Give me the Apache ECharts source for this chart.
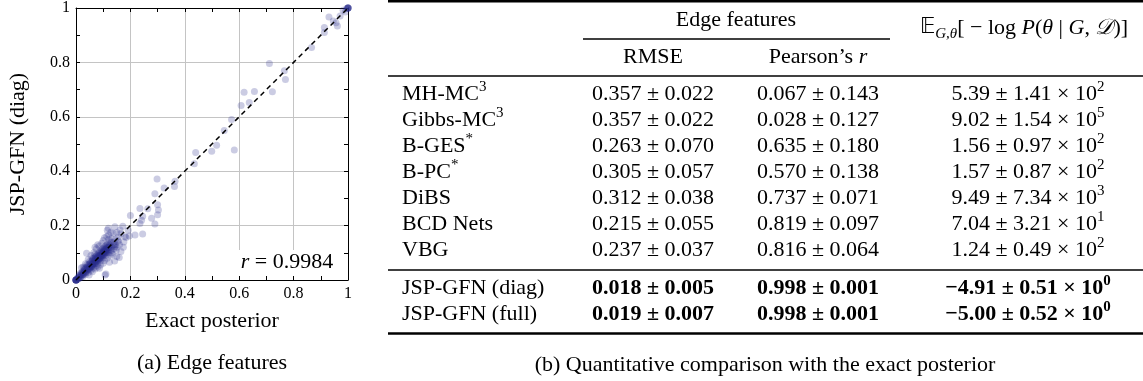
<!DOCTYPE html>
<html><head><meta charset="utf-8">
<script src="https://cdn.jsdelivr.net/npm/echarts@6/dist/echarts.min.js"></script>
<style>html,body{margin:0;padding:0;background:#fff}#c{width:1143px;height:381px}</style>
</head><body><div id="c"></div>
<script>
// ---------------- data ----------------
const tickLabels = ['0', '0.2', '0.4', '0.6', '0.8', '1'];
const identityLine = [[0, 0], [1, 1]];
const correlationText = '0.9984';
// (exact posterior, JSP-GFN diag) edge-feature pairs
const edgePoints = [
  [0,0],[0,0],[0,0],[0,0],[0,0],[0,0],[0,0],[0,0],[0,0],[0,0],
  [0.004,0.002],[0.006,0.008],[0.008,0.004],[0.01,0.012],[0.012,0.006],[0.014,0.016],[0.016,0.01],[0.018,0.02],[0.02,0.014],[0.022,0.026],
  [0.024,0.018],[0.026,0.03],[0.028,0.022],[0.03,0.036],[0.032,0.026],[0.034,0.04],[0.036,0.03],[0.038,0.046],[0.04,0.034],[0.042,0.05],
  [0.044,0.038],[0.046,0.056],[0.048,0.042],[0.05,0.06],[0.052,0.046],[0.054,0.064],[0.056,0.05],[0.058,0.07],[0.06,0.054],[0.062,0.076],
  [0.064,0.058],[0.066,0.08],[0.068,0.062],[0.07,0.084],[0.072,0.066],[0.074,0.088],[0.076,0.07],[0.078,0.092],[0.08,0.074],[0.082,0.098],
  [0.084,0.078],[0.086,0.102],[0.088,0.082],[0.09,0.106],[0.092,0.086],[0.094,0.11],[0.096,0.09],[0.098,0.114],[0.1,0.094],[0.102,0.118],
  [0.104,0.098],[0.106,0.122],[0.108,0.102],[0.11,0.126],[0.112,0.106],[0.114,0.13],[0.116,0.11],[0.118,0.134],[0.12,0.114],[0.122,0.126],
  [0.015,0.024],[0.025,0.012],[0.03,0.045],[0.035,0.02],[0.04,0.056],[0.045,0.028],[0.05,0.068],[0.055,0.036],[0.06,0.08],[0.065,0.045],
  [0.07,0.095],[0.075,0.052],[0.08,0.062],[0.085,0.09],[0.09,0.07],[0.095,0.1],[0.1,0.08],[0.105,0.112],[0.11,0.09],[0.115,0.118],
  [0.12,0.1],[0.125,0.12],[0.13,0.108],[0.135,0.128],[0.14,0.115],[0.062,0.062],[0.072,0.074],[0.082,0.082],[0.092,0.094],[0.102,0.104],
  [0.068,0.07],[0.078,0.078],[0.088,0.09],[0.098,0.098],[0.108,0.11],[0.058,0.058],[0.052,0.052],[0.086,0.086],[0.096,0.096],[0.106,0.106],
  [0.01,0.01],[0.02,0.02],[0.03,0.03],[0.04,0.04],[0.05,0.05],[0.06,0.06],[0.07,0.07],[0.08,0.08],[0.09,0.09],[0.1,0.1],[0.11,0.11],[0.12,0.12],
  [0.015,0.008],[0.025,0.02],[0.035,0.028],[0.045,0.04],[0.055,0.048],[0.065,0.058],[0.075,0.066],[0.085,0.076],[0.095,0.084],[0.105,0.095],[0.115,0.102],[0.125,0.11],
  [0.012,0.018],[0.022,0.03],[0.032,0.04],[0.042,0.045],[0.052,0.058],[0.062,0.07],[0.072,0.08],[0.082,0.09],[0.092,0.1],[0.102,0.11],[0.112,0.12],[0.122,0.13],
  [0.05,0.04],[0.06,0.05],[0.07,0.06],[0.08,0.07],[0.09,0.08],[0.1,0.09],[0.11,0.1],[0.07,0.075],[0.08,0.085],[0.09,0.085],[0.1,0.105],[0.11,0.115],
  [0.13,0.14],[0.14,0.13],[0.12,0.15],[0.13,0.12],[0.145,0.15],[0.155,0.14],
  [0.02,0.045],[0.035,0.06],[0.045,0.075],[0.055,0.09],[0.065,0.1],[0.075,0.115],[0.085,0.125],[0.095,0.135],[0.06,0.03],[0.07,0.04],
  [0.08,0.048],[0.09,0.055],[0.1,0.062],[0.105,0.072],[0.115,0.08],[0.125,0.09],[0.048,0.018],[0.086,0.043],[0.107,0.018],[0.1,0.145],
  [0.08,0.13],[0.07,0.12],[0.135,0.095],[0.145,0.13],[0.15,0.12],[0.039,0.098],[0.026,0.048],[0.11,0.022],
  [0.143,0.196],[0.172,0.198],[0.162,0.184],[0.119,0.19],[0.18,0.16],[0.174,0.12],[0.143,0.122],[0.113,0.16],[0.131,0.153],[0.196,0.162],
  [0.217,0.165],[0.184,0.156],[0.15,0.086],[0.159,0.083],[0.137,0.172],[0.156,0.158],[0.115,0.183],[0.128,0.176],[0.15,0.175],[0.165,0.17],
  [0.176,0.14],[0.16,0.13],[0.125,0.14],[0.14,0.14],[0.12,0.165],[0.105,0.155],[0.155,0.145],[0.13,0.1],[0.165,0.105],[0.148,0.11],
  [0.123,0.065],[0.142,0.07],
  [0.192,0.183],[0.245,0.169],[0.2,0.237],[0.235,0.208],[0.241,0.22],[0.245,0.234],[0.235,0.263],[0.264,0.262],[0.278,0.227],[0.29,0.206],
  [0.3,0.24],[0.303,0.257],[0.3,0.277],[0.29,0.317],[0.298,0.371],[0.324,0.338],[0.362,0.344],[0.364,0.363],[0.435,0.427],[0.44,0.469],
  [0.499,0.473],[0.517,0.495],[0.582,0.478],[0.545,0.55],[0.572,0.59],[0.607,0.642],[0.637,0.653],[0.618,0.69],[0.656,0.693],[0.722,0.692],
  [0.77,0.737],[0.766,0.769],[0.711,0.796],[0.866,0.855],[0.913,0.91],[0.913,0.928],[0.93,0.967],[0.946,0.952],[0.956,0.946],[0.961,0.934],
  [0.971,0.971],[0.982,0.992],[0.99,0.985],[0.995,0.998],
  [1,1],[1,1],[1,1],[1,1],[1,1],[1,1]
];

// table
const methods    = ['MH-MC', 'Gibbs-MC', 'B-GES', 'B-PC', 'DiBS', 'BCD Nets', 'VBG', 'JSP-GFN (diag)', 'JSP-GFN (full)'];
const methodSup  = ['3', '3', '*', '*', '', '', '', '', ''];
const rmseMean   = ['0.357', '0.357', '0.263', '0.305', '0.312', '0.215', '0.237', '0.018', '0.019'];
const rmseStd    = ['0.022', '0.022', '0.070', '0.057', '0.038', '0.055', '0.037', '0.005', '0.007'];
const pearsonMean= ['0.067', '0.028', '0.635', '0.570', '0.737', '0.819', '0.816', '0.998', '0.998'];
const pearsonStd = ['0.143', '0.127', '0.180', '0.138', '0.071', '0.097', '0.064', '0.001', '0.001'];
const nllMean    = ['5.39', '9.02', '1.56', '1.57', '9.49', '7.04', '1.24', '\u22124.91', '\u22125.00'];
const nllStd     = ['1.41', '1.54', '0.97', '0.87', '7.34', '3.21', '0.49', '0.51', '0.52'];
const nllExp     = ['2', '5', '2', '2', '3', '1', '2', '0', '0'];
const boldRows   = [false, false, false, false, false, false, false, true, true];

// ---------------- layout ----------------
const FONT = '"Liberation Serif", "DejaVu Serif", serif';
const FS = 22;
const rowY = [94, 120, 146, 172, 198, 224, 250, 288, 314];
const colName = 402, colRmse = 653, colPear = 818, colNll = 1028;
const tableL = 388, tableR = 1143;

const chart = echarts.init(document.getElementById('c'), null, {renderer: 'canvas'});

function txt(x, y, text, extra) {
  return {
    type: 'text', x: x, y: y, z: 10,
    style: Object.assign({
      text: text, fontFamily: FONT, fontSize: FS, fill: '#000',
      align: 'center', verticalAlign: 'middle',
      textAlign: 'center', textVerticalAlign: 'middle'
    }, extra || {})
  };
}
function rule(x1, x2, y, w) {
  return {type: 'line', z: 10, shape: {x1: x1, y1: y, x2: x2, y2: y}, style: {stroke: '#000', lineWidth: w}};
}
const supRich = (bold) => ({
  n: {fontFamily: FONT, fontSize: FS, lineHeight: 28, fontWeight: bold ? 'bold' : 'normal', fill: '#000'},
  s: {fontFamily: FONT, fontSize: 15, lineHeight: 15, verticalAlign: 'top', fontWeight: bold ? 'bold' : 'normal', fill: '#000'}
});

const graphics = [];
// rules
graphics.push(rule(tableL, tableR, 1.3, 2.4));
graphics.push(rule(583, 890, 39, 1.3));
graphics.push(rule(tableL, tableR, 76, 1.4));
graphics.push(rule(tableL, tableR, 270, 1.4));
graphics.push(rule(tableL, tableR, 333.5, 2.4));
// headers
graphics.push(txt(736, 20, 'Edge features'));
graphics.push(txt(colRmse, 57, 'RMSE'));
graphics.push(txt(colPear, 57, '{n|Pearson\u2019s }{i|r}', {rich: {
  n: {fontFamily: FONT, fontSize: FS, fill: '#000'},
  i: {fontFamily: FONT, fontSize: FS, fontStyle: 'italic', fill: '#000'}}}));
graphics.push(txt(1024, 28, '{bb|\uD835\uDD3C}{sub|G,\u03B8}{n|[ \u2212 log }{i|P}{n|(}{i|\u03B8}{n| | }{i|G}{n|, }{i|\uD835\uDC9F}{n|)]}', {rich: {
  bb: {fontFamily: '"DejaVu Sans", ' + FONT, fontSize: 21, lineHeight: 28, fill: '#000'},
  sub: {fontFamily: FONT, fontSize: 15, lineHeight: 15, verticalAlign: 'bottom', fontStyle: 'italic', fill: '#000'},
  n: {fontFamily: FONT, fontSize: FS, lineHeight: 28, fill: '#000'},
  i: {fontFamily: FONT, fontSize: FS, lineHeight: 28, fontStyle: 'italic', fill: '#000'}}}));
// body rows
methods.forEach((m, k) => {
  const b = boldRows[k];
  const y = rowY[k];
  graphics.push(txt(colName, y, '{n|' + m + '}' + (methodSup[k] ? '{s|' + methodSup[k] + '}' : ''),
    {align: 'left', textAlign: 'left', rich: supRich(false)}));
  graphics.push(txt(colRmse, y, rmseMean[k] + ' \u00B1 ' + rmseStd[k], {fontWeight: b ? 'bold' : 'normal'}));
  graphics.push(txt(colPear, y, pearsonMean[k] + ' \u00B1 ' + pearsonStd[k], {fontWeight: b ? 'bold' : 'normal'}));
  graphics.push(txt(colNll, y, '{n|' + nllMean[k] + ' \u00B1 ' + nllStd[k] + ' \u00D7 10}{s|' + nllExp[k] + '}', {rich: supRich(b)}));
});
// captions
graphics.push(txt(212, 363, '(a) Edge features'));
graphics.push(txt(765, 365, '(b) Quantitative comparison with the exact posterior'));
// correlation box inside the plot
graphics.push({type: 'rect', z: 3, shape: {x: 231, y: 250, width: 111, height: 26}, style: {fill: '#fff'}});
graphics.push(txt(287, 262, '{i|r}{n| = ' + correlationText + '}', {rich: {
  n: {fontFamily: FONT, fontSize: FS, fill: '#000'},
  i: {fontFamily: FONT, fontSize: FS, fontStyle: 'italic', fill: '#000'}}}));

const tickFmt = v => tickLabels[Math.round(v / 0.2)];
const blackLine = {show: true, onZero: false, lineStyle: {color: '#000', width: 1}};
const tick = {show: true, inside: true, length: 4, lineStyle: {color: '#000', width: 1}};
const minor = {show: true, splitNumber: 2, length: 4, lineStyle: {color: '#000', width: 1}};
const grid = {show: true, lineStyle: {color: '#c4c4c4', width: 1}};
const lbl = {show: true, color: '#000', fontFamily: FONT, fontSize: 16, margin: 6, formatter: tickFmt};

chart.setOption({
  animation: false,
  backgroundColor: '#fff',
  grid: {left: 76, top: 7, width: 272, height: 273, containLabel: false},
  xAxis: [
    {type: 'value', min: 0, max: 1, interval: 0.2, position: 'bottom',
     axisLine: blackLine, axisTick: tick, minorTick: minor, splitLine: grid, axisLabel: lbl,
     name: 'Exact posterior', nameLocation: 'middle', nameGap: 30,
     nameTextStyle: {fontFamily: FONT, fontSize: FS, color: '#000'}},
    {type: 'value', min: 0, max: 1, interval: 0.2, position: 'top',
     axisLine: blackLine, axisTick: tick, minorTick: minor, splitLine: {show: false}, axisLabel: {show: false}}
  ],
  yAxis: [
    {type: 'value', min: 0, max: 1, interval: 0.2, position: 'left',
     axisLine: blackLine, axisTick: tick, minorTick: minor, splitLine: grid, axisLabel: lbl,
     name: 'JSP-GFN (diag)', nameLocation: 'middle', nameGap: 47, nameRotate: 90,
     nameTextStyle: {fontFamily: FONT, fontSize: FS, color: '#000'}},
    {type: 'value', min: 0, max: 1, interval: 0.2, position: 'right',
     axisLine: blackLine, axisTick: tick, minorTick: minor, splitLine: {show: false}, axisLabel: {show: false}}
  ],
  series: [
    {type: 'scatter', data: edgePoints, symbol: 'circle', symbolSize: 7, z: 2,
     itemStyle: {color: 'rgba(40,44,140,0.3)', borderWidth: 0}, silent: true},
    {type: 'line', data: identityLine, symbol: 'none', z: 4, silent: true,
     lineStyle: {color: '#000', width: 1.5, type: [5, 4]}}
  ],
  graphic: graphics
});
</script>
</body></html>
